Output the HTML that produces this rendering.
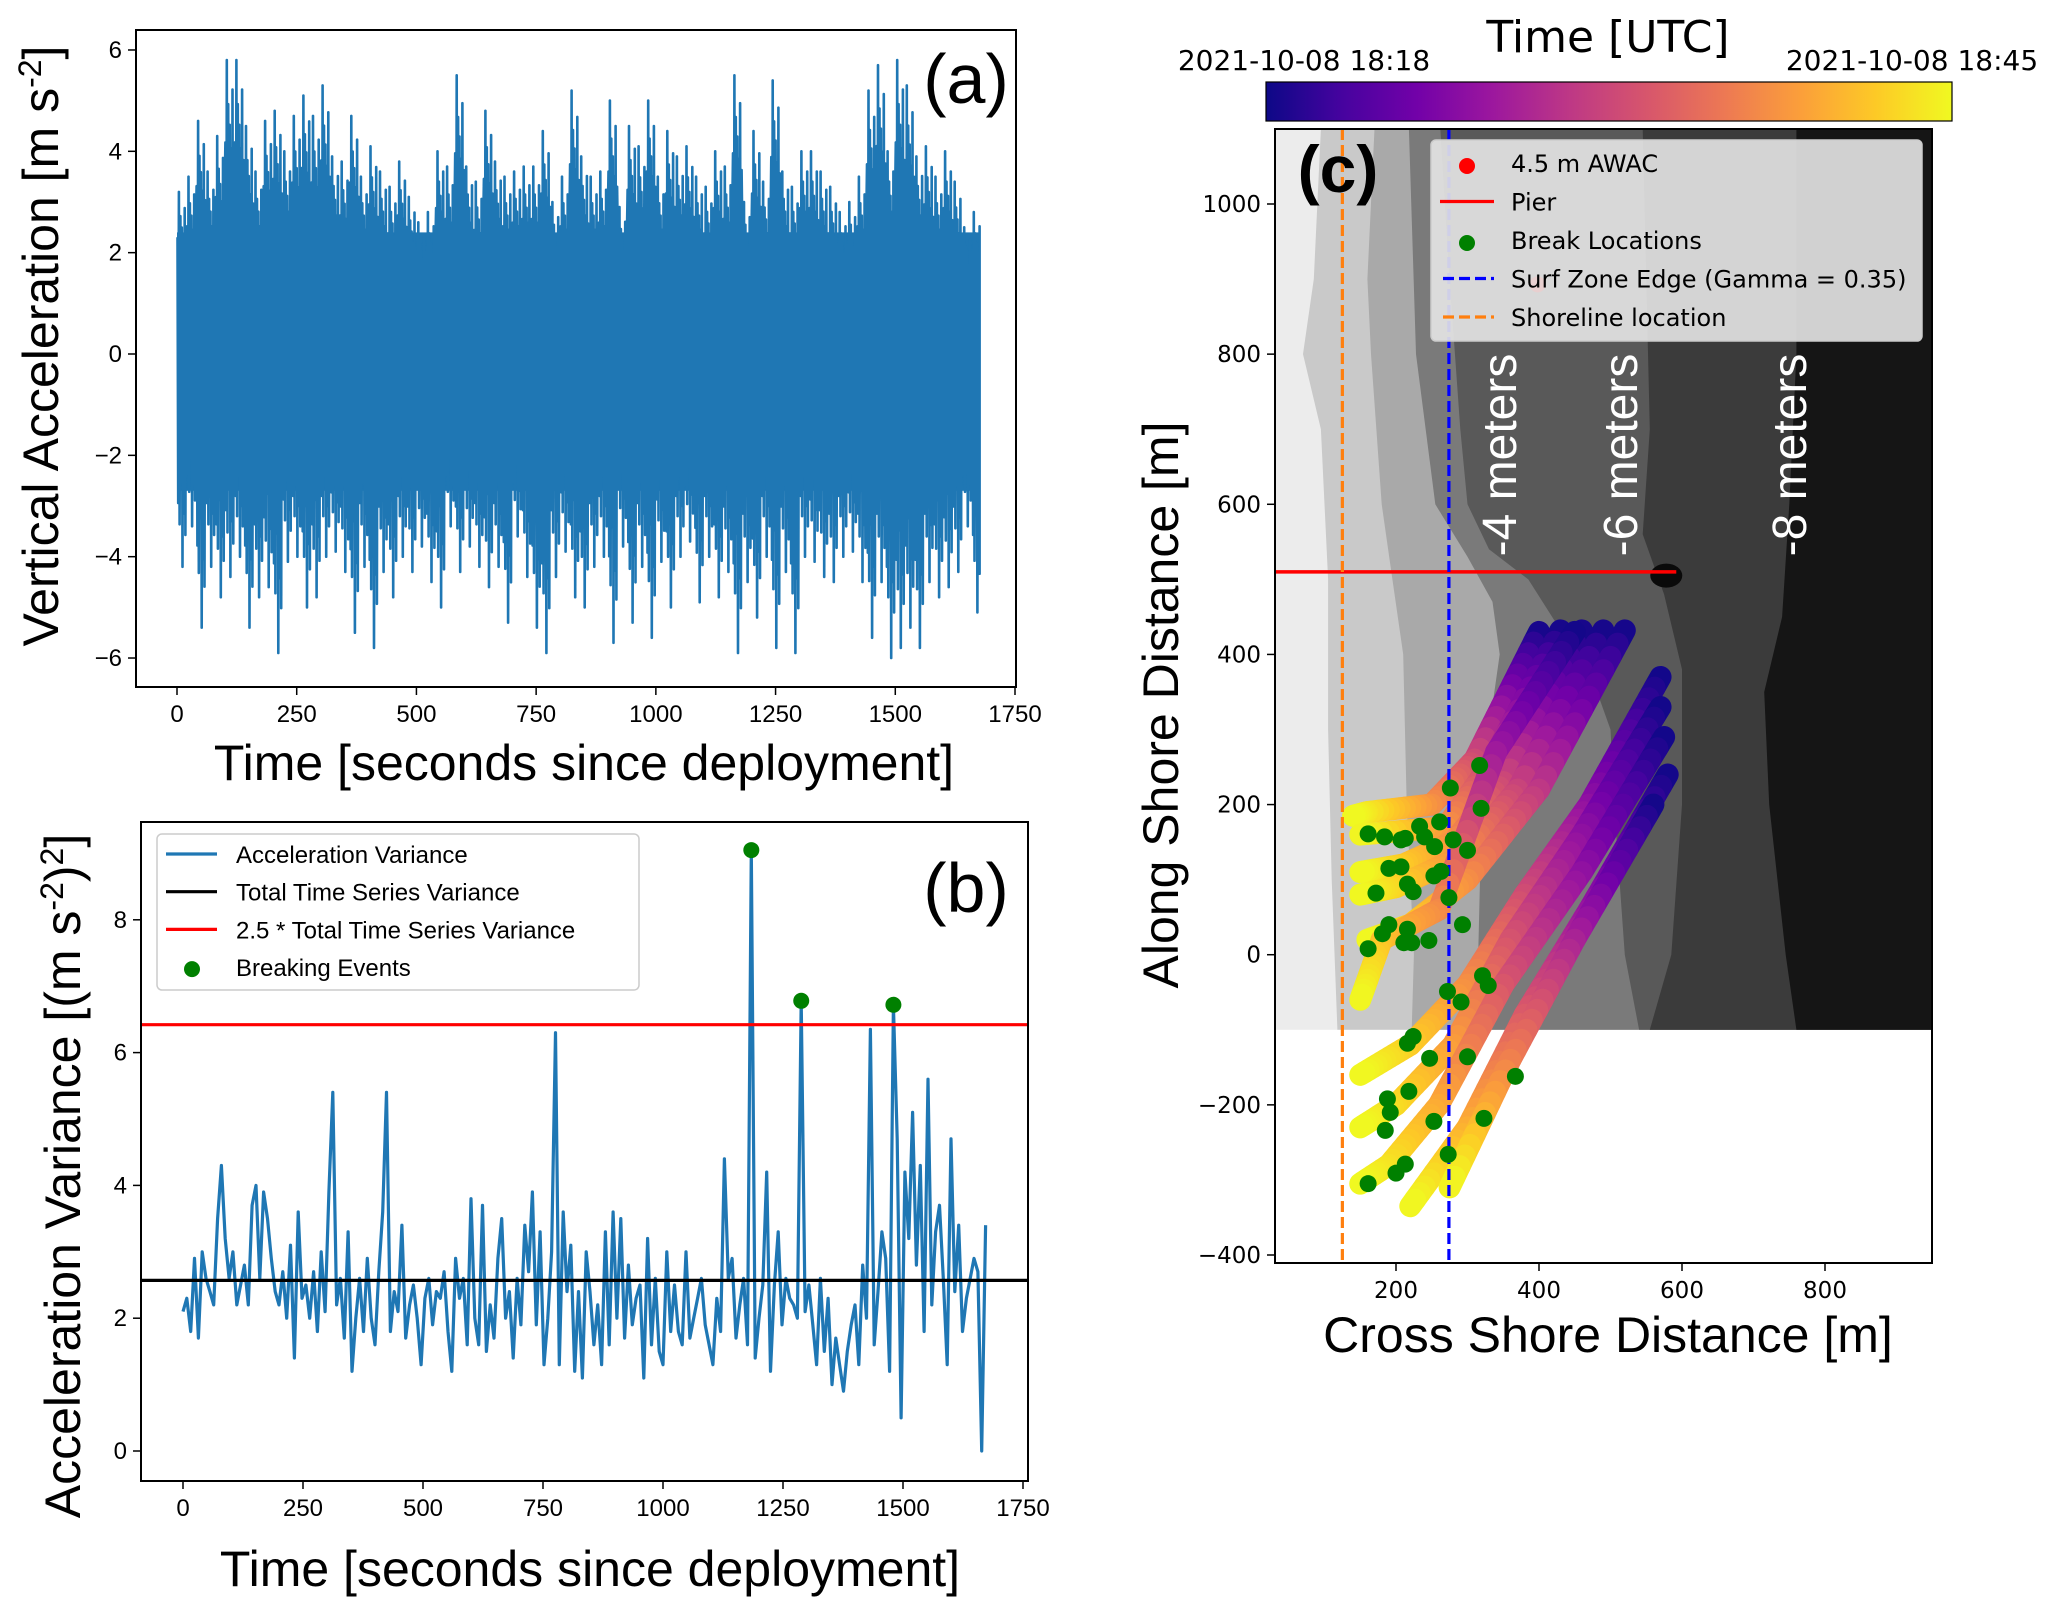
<!DOCTYPE html>
<html><head><meta charset="utf-8">
<style>
html,body{margin:0;padding:0;background:#fff;}
svg{display:block;font-family:"Liberation Sans",sans-serif;}
</style></head>
<body>
<svg id="fig" width="2067" height="1614" viewBox="0 0 2067 1614" xmlns="http://www.w3.org/2000/svg">
<defs>
<linearGradient id="plasma" x1="0" x2="1" y1="0" y2="0">
<stop offset="0" stop-color="#0d0887"/><stop offset="0.11" stop-color="#46039f"/><stop offset="0.22" stop-color="#7201a8"/><stop offset="0.33" stop-color="#9c179e"/><stop offset="0.44" stop-color="#bd3786"/><stop offset="0.56" stop-color="#d8576b"/><stop offset="0.67" stop-color="#ed7953"/><stop offset="0.78" stop-color="#fb9f3a"/><stop offset="0.89" stop-color="#fdca26"/><stop offset="1" stop-color="#f0f921"/>
</linearGradient>
<clipPath id="clipA"><rect x="136" y="30" width="880" height="657"/></clipPath>
<clipPath id="clipB"><rect x="141" y="822" width="887" height="659"/></clipPath>
<clipPath id="clipC"><rect x="1275" y="129" width="657" height="1134"/></clipPath>
</defs>
<g id="pa"></g>
<g id="pb"></g>
<g id="pc"></g>
</svg>
<script>
// ---------- Panel (a) data ----------
const aBinStart = 0, aBinWidth = 20;
const aMax = [3.2,3.5,4.6,3.6,4.3,5.8,5.8,4.5,3.6,4.6, 4.8,4.0,4.7,5.1,4.7,5.3,3.9,3.8,4.7,3.5,
 4.1,3.6,3.3,3.8,3.1,2.6,2.8,4.0,3.7,5.5, 3.7,3.4,4.8,3.8,3.5,3.6,3.7,3.7,4.4,3.0,
 3.5,5.2,3.9,3.5,3.6,5.0,2.9,4.5,4.1,5.0, 3.5,4.4,3.9,4.1,3.5,3.3,4.0,3.7,5.5,3.0,
 4.4,3.4,5.4,3.6,3.3,4.0,4.0,3.6,3.3,2.8, 3.0,3.5,5.2,5.7,4.0,5.8,5.3,3.9,4.1,3.5, 4.0,3.4,2.5,2.8];
const aMin = [-4.2,-3.4,-5.4,-4.2,-4.8,-4.4,-4.0,-5.4,-4.8,-4.6, -5.9,-4.1,-4.0,-5.0,-4.8,-4.0,-3.9,-4.3,-5.5,-4.2,
 -5.8,-4.3,-4.8,-4.0,-4.3,-3.8,-4.5,-5.0,-3.4,-4.3, -3.8,-4.2,-4.6,-4.2,-5.3,-3.6,-4.4,-5.4,-5.9,-4.4,
 -3.9,-4.8,-5.0,-4.2,-4.0,-5.7,-3.8,-5.3,-4.2,-5.6, -4.1,-5.0,-4.0,-3.7,-4.9,-4.0,-4.8,-4.3,-5.9,-4.5,
 -5.2,-4.0,-5.8,-4.3,-5.9,-4.0,-4.1,-4.4,-4.5,-4.0, -3.9,-4.5,-5.6,-4.5,-6.0,-5.8,-5.4,-5.8,-4.5,-4.8, -4.6,-4.3,-3.4,-5.1];
const aCore = [-2.7, 2.4];
const aXTicks = [0,250,500,750,1000,1250,1500,1750];
const aYTicks = [-6,-4,-2,0,2,4,6];

// ---------- Panel (b) data ----------
const bStep = 8;
const bVar = [2.1,2.3,1.8,2.9,1.7,3.0,2.6,2.4,2.2,3.5,
 4.3,3.2,2.6,3.0,2.2,2.5,2.8,2.2,3.7,4.0,
 2.6,3.9,3.5,2.9,2.4,2.2,2.7,2.0,3.1,1.4,
 3.6,2.3,2.5,2.0,2.7,1.8,3.0,2.1,3.9,5.4,
 2.2,2.6,1.7,3.3,1.2,2.0,2.6,1.8,2.9,2.0,
 1.6,2.7,3.6,5.4,1.8,2.4,2.1,3.4,1.7,2.2,
 2.5,2.0,1.3,2.3,2.6,1.9,2.4,2.3,2.7,1.8,
 1.2,2.9,2.3,2.6,1.6,3.8,2.0,1.6,3.7,1.5,
 2.2,1.7,2.9,3.5,2.0,2.4,1.4,2.6,1.9,3.4,
 2.7,3.9,1.9,3.3,1.3,2.0,3.0,6.3,1.3,3.6,
 2.4,3.1,1.2,2.4,1.1,3.0,2.4,1.6,2.2,1.3,
 3.3,1.6,3.6,2.0,3.5,1.7,2.8,1.9,2.3,2.5,
 1.1,3.2,1.6,2.6,1.5,1.3,3.0,1.8,2.5,1.8,
 1.6,3.0,1.7,2.0,2.3,2.6,1.9,1.6,1.3,2.3,
 1.8,4.4,2.6,2.9,1.7,2.2,2.6,1.6,9.05,1.4,
 2.0,2.5,4.2,1.2,2.5,3.3,1.9,2.6,2.3,2.2,
 2.0,6.78,2.1,2.5,1.9,1.3,2.6,1.5,2.3,1.0,
 1.7,1.3,0.9,1.5,1.9,2.2,1.3,2.8,2.0,6.35,
 1.6,2.4,3.3,2.9,1.2,6.72,4.7,0.5,4.2,3.2,
 5.1,2.8,4.3,1.8,5.6,2.2,3.3,3.7,2.6,1.3,
 4.7,2.4,3.4,1.8,2.3,2.6,2.9,2.7,0.0,3.4];
const bTotalVar = 2.57;
const bThreshold = 6.42;
const bBreakTimes = [1184, 1288, 1480];
const bBreakVals = [9.05, 6.78, 6.72];
const bXTicks = [0,250,500,750,1000,1250,1500,1750];
const bYTicks = [0,2,4,6,8];

// ---------- Panel (c) data ----------
const cXTicks = [200,400,600,800];
const cYTicks = [-400,-200,0,200,400,600,800,1000];
const cShoreline = 125;
const cSurfEdge = 274;
const cPierY = 510, cPierX0 = 31, cPierX1 = 592;
const cTrack1 = [[400,430],[310,260],[250,200],[160,190],[140,185]];
const cTrack2 = [[430,432],[330,250],[270,170],[150,160]];
const cTrack3 = [[460,432],[350,230],[280,150],[210,120],[150,110]];
const cTrack4 = [[490,432],[370,220],[290,130],[200,90],[150,80]];
const cTrack5 = [[520,432],[400,220],[300,100],[220,40],[160,20]];
const cTrack6 = [[450,430],[340,270],[260,60],[180,20],[150,-60]];
const cTrack7 = [[570,370],[470,200],[380,80],[300,-40],[220,-120],[150,-160]];
const cTrack8 = [[570,330],[460,160],[360,20],[280,-120],[200,-200],[150,-230]];
const cTrack9 = [[575,290],[460,110],[350,-40],[260,-200],[190,-280],[150,-305]];
const cTrack10 = [[580,240],[470,60],[380,-80],[300,-230],[220,-335]];
const cTrack11 = [[560,200],[450,20],[360,-140],[275,-310]];
const cBreakX = [317,276,319,161,184,207,213,233,240,261,254,280,300,190,207,216,224,172,263,253,274,293,190,216,211,222,181,161,246,321,329,272,291,224,216,247,300,367,218,188,192,185,253,323,273,213,200,161];
const cBreakY = [252,222,195,161,157,153,155,171,157,177,144,153,139,115,117,94,84,82,111,105,76,40,40,34,16,16,28,8,19,-28,-41,-49,-63,-109,-118,-138,-136,-162,-182,-192,-210,-234,-222,-218,-266,-279,-291,-305];
const cAwac = [398, 893];

const NS = "http://www.w3.org/2000/svg";
function mk(parent, tag, attrs, text){
  const e = document.createElementNS(NS, tag);
  for (const k in attrs) e.setAttribute(k, attrs[k]);
  if (text !== undefined) e.textContent = text;
  parent.appendChild(e);
  return e;
}

// ================= PANEL A =================
(function(){
  const g = document.getElementById('pa');
  const L=136,R=1016,T=30,B=687;
  const xa = t => 177 + t*(838/1750);
  const ya = v => 354 - v*50.67;
  const plot = mk(g,'g',{'clip-path':'url(#clipA)'});
  
  
  const tEnd = aBinStart + aMax.length*aBinWidth;
  const core = mk(plot,'rect',{x:xa(0),y:ya(aCore[1]),width:xa(tEnd-4)-xa(0),height:ya(aCore[0])-ya(aCore[1]),fill:'#1f77b4'});
  
  
  let d='';
  const fr_=[[1,0.72],[2.5,-0.7],[4,1],[5.5,-0.8],[7,0.85],[8.5,-0.6],[10,0.78],[11.5,-1],[13,0.7],[14.5,-0.75],[16,0.9],[17.5,-0.85],[19,0.66]];
  for(let i=0;i<aMax.length;i++){
    const t0=aBinStart+i*aBinWidth;
    fr_.forEach((p,j)=>{
      const v = p[1]>0 ? aMax[i]*p[1] : aMin[i]*(-p[1]);
      d += (i===0&&j===0?'M':'L') + xa(Math.min(t0+p[0],tEnd-4)).toFixed(1)+','+ya(v).toFixed(1);
    });
  }
  const line = mk(plot,'path',{d:d,fill:'none',stroke:'#1f77b4','stroke-width':2.6,'stroke-linejoin':'round'});
  
  
  const fr = mk(g,'rect',{x:L,y:T,width:R-L,height:B-T,fill:'none',stroke:'#000','stroke-width':2});
  
  
  aXTicks.forEach(t=>{
    mk(g,'line',{x1:xa(t),x2:xa(t),y1:B,y2:B+8,stroke:'#000','stroke-width':1.5});
    const tx = mk(g,'text',{x:xa(t),y:B+35,'text-anchor':'middle','font-size':24},String(t));
    
    
  });
  aYTicks.forEach(v=>{
    mk(g,'line',{x1:L-8,x2:L,y1:ya(v),y2:ya(v),stroke:'#000','stroke-width':1.5});
    const tx = mk(g,'text',{x:L-14,y:ya(v)+8,'text-anchor':'end','font-size':24},(v<0?'\u2212':'')+Math.abs(v));
    
    
  });
  const xt = mk(g,'text',{x:584,y:780,'text-anchor':'middle','font-size':50},'Time [seconds since deployment]');
  
  
  const yt = mk(g,'text',{x:0,y:0,transform:'translate(58,346) rotate(-90)','text-anchor':'middle','font-size':50});
  
  
  yt.innerHTML = 'Vertical Acceleration [m s<tspan dy="-17" font-size="32">-2</tspan><tspan dy="17">]</tspan>';
  const lab = mk(g,'text',{x:966,y:103,'text-anchor':'middle','font-size':70},'(a)');
  
  
})();

// ================= PANEL B =================
(function(){
  const g = document.getElementById('pb');
  const L=141,R=1028,T=822,B=1481;
  const xb = t => 183 + t*(840/1750);
  const yb = v => 1451 - v*66.4;
  const plot = mk(g,'g',{'clip-path':'url(#clipB)'});
  let d='';
  bVar.forEach((v,i)=>{ d += (i?'L':'M')+xb(i*bStep).toFixed(1)+','+yb(v).toFixed(1); });
  const ln = mk(plot,'path',{d:d,fill:'none',stroke:'#1f77b4','stroke-width':3.2,'stroke-linejoin':'round'});
  
  
  const tv = mk(plot,'line',{x1:L,x2:R,y1:yb(bTotalVar),y2:yb(bTotalVar),stroke:'#000','stroke-width':3.2});
  
  
  const th = mk(plot,'line',{x1:L,x2:R,y1:yb(bThreshold),y2:yb(bThreshold),stroke:'#ff0000','stroke-width':3.2});
  
  
  bBreakTimes.forEach((t,i)=>{
    const c = mk(plot,'circle',{cx:xb(t),cy:yb(bBreakVals[i]),r:8,fill:'#008000'});
    
    
  });
  const fr = mk(g,'rect',{x:L,y:T,width:R-L,height:B-T,fill:'none',stroke:'#000','stroke-width':2});
  
  
  bXTicks.forEach(t=>{
    mk(g,'line',{x1:xb(t),x2:xb(t),y1:B,y2:B+8,stroke:'#000','stroke-width':1.5});
    const tx = mk(g,'text',{x:xb(t),y:B+35,'text-anchor':'middle','font-size':24},String(t));
    
    
  });
  bYTicks.forEach(v=>{
    mk(g,'line',{x1:L-8,x2:L,y1:yb(v),y2:yb(v),stroke:'#000','stroke-width':1.5});
    const tx = mk(g,'text',{x:L-14,y:yb(v)+8,'text-anchor':'end','font-size':24},String(v));
    
    
  });
  const lg = mk(g,'g',{});
  
  
  mk(lg,'rect',{x:157,y:834,width:482,height:156,rx:5,fill:'#fff','fill-opacity':0.85,stroke:'#ccc','stroke-width':1.5});
  const items=[['line','#1f77b4','Acceleration Variance'],['line','#000','Total Time Series Variance'],['line','#ff0000','2.5 * Total Time Series Variance'],['dot','#008000','Breaking Events']];
  items.forEach((it,i)=>{
    const y = 854 + i*37.7;
    const e = mk(lg,'g',{});
    
    
    if(it[0]==='line') mk(e,'line',{x1:166,x2:217,y1:y,y2:y,stroke:it[1],'stroke-width':3.2});
    else mk(e,'circle',{cx:192,cy:y+2,r:8,fill:it[1]});
    mk(e,'text',{x:236,y:y+9,'font-size':24},it[2]);
  });
  const xt = mk(g,'text',{x:590,y:1586,'text-anchor':'middle','font-size':50},'Time [seconds since deployment]');
  
  
  const yt = mk(g,'text',{x:0,y:0,transform:'translate(80,1176) rotate(-90)','text-anchor':'middle','font-size':50});
  
  
  yt.innerHTML = 'Acceleration Variance [(m s<tspan dy="-17" font-size="32">-2</tspan><tspan dy="17">)</tspan><tspan dy="-17" font-size="32">2</tspan><tspan dy="17">]</tspan>';
  const lab = mk(g,'text',{x:966,y:912,'text-anchor':'middle','font-size':70},'(b)');
  
  
})();

// ================= PANEL C =================
(function(){
  const g = document.getElementById('pc');
  const L=1275,R=1932,T=129,B=1263;
  const xc = x => 1396 + (x-200)*(429/600);
  const yc = y => 204 + (1000-y)*(1051/1400);
  const plot = mk(g,'g',{'clip-path':'url(#clipC)'});
  const bathy = mk(plot,'g',{});
  
  
  mk(bathy,'rect',{x:L,y:yc(1100),width:R-L,height:yc(-100)-yc(1100),fill:'#ececec'});
  const layers = [
    ['#c9c9c9',[[1100,95],[900,85],[800,70],[700,95],[500,105],[300,105],[100,110],[-100,118]]],
    ['#a9a9a9',[[1100,170],[900,160],[800,165],[600,180],[500,195],[400,210],[200,215],[0,225],[-100,222]]],
    ['#7a7a7a',[[1100,218],[800,228],[600,255],[530,300],[470,335],[400,345],[300,330],[200,320],[0,315],[-100,320]]],
    ['#595959',[[1100,262],[900,275],[700,290],[600,300],[540,330],[500,385],[440,425],[380,470],[300,500],[200,505],[0,520],[-100,540]]],
    ['#3b3b3b',[[1100,545],[700,555],[560,545],[480,575],[380,600],[200,600],[0,585],[-100,555]]],
    ['#151515',[[1100,760],[800,760],[600,750],[450,740],[350,715],[200,722],[0,745],[-100,760]]]
  ];
  layers.forEach(([col,pts])=>{
    let d='M'+xc(pts[0][1])+','+yc(pts[0][0]);
    pts.forEach(p=>{ d+='L'+xc(p[1]).toFixed(1)+','+yc(p[0]).toFixed(1); });
    d+='L'+R+','+yc(-100)+'L'+R+','+yc(1100)+'Z';
    mk(bathy,'path',{d:d,fill:col});
  });
  mk(bathy,'ellipse',{cx:xc(578),cy:yc(505),rx:16,ry:12,fill:'#0a0a0a'});
  [['-4 meters',1516],['-6 meters',1637],['-8 meters',1806]].forEach(([t,x])=>{
    const tx = mk(plot,'text',{x:0,y:0,transform:`translate(${x},455) rotate(-90)`,'text-anchor':'middle','font-size':48,fill:'#fff'},t);
    
    
  });
  const pier = mk(plot,'line',{x1:xc(cPierX0),x2:xc(cPierX1),y1:yc(cPierY),y2:yc(cPierY),stroke:'#ff0000','stroke-width':3.5});
  
  
  const stops=[[13,8,135],[70,3,159],[114,1,168],[156,23,158],[189,55,134],[216,87,107],[237,121,83],[251,159,58],[253,202,38],[240,249,33]];
  function plasma(f){ f=Math.max(0,Math.min(1,f)); const p=f*9, i=Math.min(8,Math.floor(p)), u=p-i; const a=stops[i],b=stops[i+1]; return `rgb(${Math.round(a[0]+(b[0]-a[0])*u)},${Math.round(a[1]+(b[1]-a[1])*u)},${Math.round(a[2]+(b[2]-a[2])*u)})`; }
  const tracks=[cTrack1,cTrack2,cTrack3,cTrack4,cTrack5,cTrack6,cTrack7,cTrack8,cTrack9,cTrack10,cTrack11];
  tracks.forEach((tr)=>{
    const tg = mk(plot,'g',{});
    
    
    let lens=[0];
    for(let i=1;i<tr.length;i++){ lens.push(lens[i-1]+Math.hypot(xc(tr[i][0])-xc(tr[i-1][0]),yc(tr[i][1])-yc(tr[i-1][1]))); }
    const total=lens[lens.length-1];
    for(let i=1;i<tr.length;i++){
      const n=12;
      for(let k=0;k<n;k++){
        const u0=k/n,u1=(k+1)/n;
        const xA=tr[i-1][0]+(tr[i][0]-tr[i-1][0])*u0, yA=tr[i-1][1]+(tr[i][1]-tr[i-1][1])*u0;
        const xB=tr[i-1][0]+(tr[i][0]-tr[i-1][0])*u1, yB=tr[i-1][1]+(tr[i][1]-tr[i-1][1])*u1;
        const f=(lens[i-1]+(lens[i]-lens[i-1])*(u0+u1)/2)/total;
        mk(tg,'line',{x1:xc(xA),y1:yc(yA),x2:xc(xB),y2:yc(yB),stroke:plasma(f),'stroke-width':22,'stroke-linecap':'round'});
      }
    }
  });
  const sh = mk(plot,'line',{x1:xc(cShoreline),x2:xc(cShoreline),y1:T,y2:B,stroke:'#ff7f0e','stroke-width':3.2,'stroke-dasharray':'11 5'});
  
  
  const sz = mk(plot,'line',{x1:xc(cSurfEdge),x2:xc(cSurfEdge),y1:T,y2:B,stroke:'#0000ff','stroke-width':3.2,'stroke-dasharray':'11 5'});
  
  
  cBreakX.forEach((x,i)=>{
    const c = mk(plot,'circle',{cx:xc(x),cy:yc(cBreakY[i]),r:8.5,fill:'#008000'});
    
    
  });
  const aw = mk(plot,'circle',{cx:xc(cAwac[0]),cy:yc(cAwac[1]),r:8,fill:'#ff0000'});
  
  
  const lg = mk(g,'g',{});
  
  
  mk(lg,'rect',{x:1431,y:140,width:491,height:201,rx:5,fill:'#e6e6e6','fill-opacity':0.9,stroke:'#ccc','stroke-width':1.5});
  const items=[['dot','#ff0000','4.5 m AWAC'],['line','#ff0000','Pier'],['dot','#008000','Break Locations'],['dash','#0000ff','Surf Zone Edge (Gamma = 0.35)'],['dash','#ff7f0e','Shoreline location']];
  items.forEach((it,i)=>{
    const y=163+i*38.5;
    const e = mk(lg,'g',{});
    
    
    if(it[0]==='dot') mk(e,'circle',{cx:1467,cy:y+3,r:8,fill:it[1]});
    else if(it[0]==='line') mk(e,'line',{x1:1440,x2:1494,y1:y,y2:y,stroke:it[1],'stroke-width':3.2});
    else mk(e,'line',{x1:1443,x2:1494,y1:y,y2:y,stroke:it[1],'stroke-width':3.2,'stroke-dasharray':'11 5'});
    mk(e,'text',{x:1511,y:y+9,'font-size':24,'font-family':'DejaVu Sans, sans-serif'},it[2]);
  });
  const fr = mk(g,'rect',{x:L,y:T,width:R-L,height:B-T,fill:'none',stroke:'#000','stroke-width':2});
  
  
  cXTicks.forEach(t=>{
    mk(g,'line',{x1:xc(t),x2:xc(t),y1:B,y2:B+8,stroke:'#000','stroke-width':1.5});
    const tx = mk(g,'text',{x:xc(t),y:B+35,'text-anchor':'middle','font-size':23,'font-family':'DejaVu Sans, sans-serif'},String(t));
    
    
  });
  cYTicks.forEach(v=>{
    mk(g,'line',{x1:L-8,x2:L,y1:yc(v),y2:yc(v),stroke:'#000','stroke-width':1.5});
    const tx = mk(g,'text',{x:L-14,y:yc(v)+8,'text-anchor':'end','font-size':23,'font-family':'DejaVu Sans, sans-serif'},(v<0?'\u2212':'')+Math.abs(v));
    
    
  });
  const xt = mk(g,'text',{x:1608,y:1352,'text-anchor':'middle','font-size':50},'Cross Shore Distance [m]');
  
  
  const yt = mk(g,'text',{x:0,y:0,transform:'translate(1178,705) rotate(-90)','text-anchor':'middle','font-size':50},'Along Shore Distance [m]');
  
  
  const lab = mk(g,'text',{x:1338,y:192,'text-anchor':'middle','font-size':66,'font-weight':'bold'},'(c)');
  
  
  const cb = mk(g,'rect',{x:1266,y:82,width:686,height:39,fill:'url(#plasma)',stroke:'#000','stroke-width':1.2});
  
  
  const c1 = mk(g,'text',{x:1304,y:70,'text-anchor':'middle','font-size':28,'font-family':'DejaVu Sans, sans-serif'},'2021-10-08 18:18');
  
  
  const c2 = mk(g,'text',{x:1912,y:70,'text-anchor':'middle','font-size':28,'font-family':'DejaVu Sans, sans-serif'},'2021-10-08 18:45');
  
  
  const ct = mk(g,'text',{x:1608,y:52,'text-anchor':'middle','font-size':44,'font-family':'DejaVu Sans, sans-serif'},'Time [UTC]');
  
  
})();
</script>
</body></html>
